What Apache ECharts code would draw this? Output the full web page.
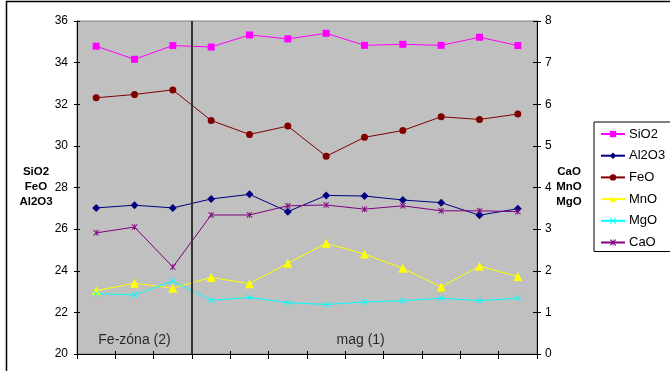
<!DOCTYPE html>
<html>
<head>
<meta charset="utf-8">
<script src="https://cdn.jsdelivr.net/npm/echarts@6/dist/echarts.min.js"></script>
<style>
  html, body { margin: 0; padding: 0; background: #fff; }
  #chart { width: 670px; height: 371px; }
</style>
</head>
<body>
<div id="chart"></div>
<script>
// Sample positions along the profile
const categories = ['1', '2', '3', '4', '5', '6', '7', '8', '9', '10', '11', '12'];

// Major oxides (left axis, wt%)
const sio2  = [34.79, 34.16, 34.82, 34.75, 35.33, 35.14, 35.41, 34.83, 34.88, 34.83, 35.22, 34.82];
const al2o3 = [27.02, 27.15, 27.02, 27.45, 27.67, 26.84, 27.62, 27.59, 27.40, 27.27, 26.67, 26.98];
const feo   = [32.31, 32.47, 32.69, 31.22, 30.55, 30.95, 29.50, 30.41, 30.74, 31.40, 31.27, 31.53];

// Minor oxides (right axis, wt%)
const mno = [1.52, 1.70, 1.58, 1.84, 1.69, 2.18, 2.66, 2.40, 2.06, 1.61, 2.11, 1.86];
const mgo = [1.45, 1.42, 1.75, 1.29, 1.36, 1.23, 1.19, 1.25, 1.28, 1.34, 1.28, 1.34];
const cao = [2.91, 3.05, 2.09, 3.34, 3.34, 3.56, 3.58, 3.48, 3.56, 3.44, 3.44, 3.42];

// Zone labels (position in sample units) and the zone boundary
const zoneLabels = [['Fe-zóna (2)', 1.5], ['mag (1)', 7.4]];
const zoneBoundary = 3;

const leftTicks = { min: 20, max: 36, interval: 2 };
const rightTicks = { min: 0, max: 8, interval: 1 };

const FONT = 'Liberation Sans, Arial, sans-serif';

const crossPath = 'path://M0,1L1,0L5,4L9,0L10,1L6,5L10,9L9,10L5,6L1,10L0,9L4,5Z';
const starPath = 'path://M0,1L1,0L5,4L9,0L10,1L6,5L10,9L9,10L5,6L1,10L0,9L4,5ZM4.4,0L5.6,0L5.6,10L4.4,10Z';

function lineSeries(name, data, color, symbol, size, yAxisIndex) {
  return {
    name, type: 'line', data, yAxisIndex, xAxisIndex: 0,
    symbol, symbolSize: size,
    lineStyle: { color, width: 1 },
    itemStyle: { color },
    emphasis: { disabled: true },
    animation: false,
    z: 3
  };
}

// Axis used only to draw the inner half of crossing tick marks
function innerValueAxis(position, range, len) {
  return {
    type: 'value', position,
    min: range.min, max: range.max, interval: range.interval,
    axisLine: { show: false },
    axisTick: { show: true, inside: true, length: len, lineStyle: { color: '#000' } },
    axisLabel: { show: false },
    splitLine: { show: false }
  };
}

const chart = echarts.init(document.getElementById('chart'), null, { renderer: 'canvas' });

chart.setOption({
  animation: false,
  backgroundColor: '#ffffff',
  textStyle: { fontFamily: FONT },
  grid: {
    left: 77, right: 133, top: 21, bottom: 17,
    show: true, backgroundColor: '#c0c0c0', borderColor: '#808080', borderWidth: 1
  },
  legend: {
    orient: 'vertical',
    left: 594, top: 122,
    padding: [5, 60, 2, 6],
    itemGap: 7.7,
    itemWidth: 24, itemHeight: 8,
    borderColor: '#000', borderWidth: 1,
    backgroundColor: '#fff',
    textStyle: { fontFamily: FONT, fontSize: 13, color: '#000', lineHeight: 14, padding: [0, 0, 0, -1] },
    data: ['SiO2', 'Al2O3', 'FeO', 'MnO', 'MgO', 'CaO']
  },
  xAxis: [
    {
      type: 'category', data: categories, boundaryGap: true,
      axisLine: { lineStyle: { color: '#000', width: 1 } },
      axisTick: { show: true, interval: 0, length: 5, lineStyle: { color: '#000' } },
      axisLabel: { show: false },
      splitLine: { show: false }
    },
    {
      type: 'value', min: 0, max: categories.length, show: false,
      splitLine: { show: false }
    },
    {
      type: 'category', data: categories, boundaryGap: true, position: 'bottom',
      axisLine: { show: false },
      axisTick: { show: true, inside: true, interval: 0, length: 3, lineStyle: { color: '#000' } },
      axisLabel: { show: false },
      splitLine: { show: false }
    }
  ],
  yAxis: [
    {
      type: 'value', position: 'left',
      min: leftTicks.min, max: leftTicks.max, interval: leftTicks.interval,
      axisLine: { show: true, lineStyle: { color: '#000', width: 1 } },
      axisTick: { show: true, length: 3, lineStyle: { color: '#000' } },
      axisLabel: { color: '#000', fontSize: 12, fontFamily: FONT, margin: 9 },
      splitLine: { show: false }
    },
    {
      type: 'value', position: 'right',
      min: rightTicks.min, max: rightTicks.max, interval: rightTicks.interval,
      axisLine: { show: true, lineStyle: { color: '#000', width: 1 } },
      axisTick: { show: true, length: 4, lineStyle: { color: '#000' } },
      axisLabel: { color: '#000', fontSize: 12, fontFamily: FONT, margin: 8 },
      splitLine: { show: false }
    },
    innerValueAxis('left', leftTicks, 3),
    innerValueAxis('right', rightTicks, 4)
  ],
  series: [
    lineSeries('SiO2', sio2, '#ff00ff', 'rect', 7, 0),
    lineSeries('Al2O3', al2o3, '#000080', 'diamond', 8, 0),
    lineSeries('FeO', feo, '#800000', 'circle', 7, 0),
    lineSeries('MnO', mno, '#ffff00', 'triangle', 9, 1),
    lineSeries('MgO', mgo, '#00ffff', crossPath, 6, 1),
    lineSeries('CaO', cao, '#800080', starPath, 6, 1),
    {
      name: 'zones', type: 'scatter', xAxisIndex: 1, yAxisIndex: 0,
      data: zoneLabels.map(z => ({ name: z[0], value: [z[1], 20.65] })),
      symbolSize: 0,
      silent: true,
      label: {
        show: true, position: 'inside', formatter: '{b}',
        color: '#000', fontSize: 14, fontFamily: FONT
      },
      markLine: {
        silent: true, symbol: 'none',
        label: { show: false },
        lineStyle: { color: '#333333', width: 2, type: 'solid' },
        data: [{ xAxis: zoneBoundary }]
      },
      z: 2
    }
  ],
  graphic: [
    {
      type: 'rect', silent: true, z: 100,
      shape: { x: 6.5, y: 1.5, width: 720, height: 420 },
      style: { fill: 'none', stroke: '#000', lineWidth: 1.5 }
    },
    {
      type: 'text', silent: true,
      x: 36, y: 187,
      style: {
        text: 'SiO2\nFeO\nAl2O3', textAlign: 'center', textVerticalAlign: 'middle',
        font: 'bold 11.5px ' + FONT, lineHeight: 15, fill: '#000'
      }
    },
    {
      type: 'text', silent: true,
      x: 569, y: 187,
      style: {
        text: 'CaO\nMnO\nMgO', textAlign: 'center', textVerticalAlign: 'middle',
        font: 'bold 11.5px ' + FONT, lineHeight: 15, fill: '#000'
      }
    }
  ]
});
</script>
</body>
</html>
